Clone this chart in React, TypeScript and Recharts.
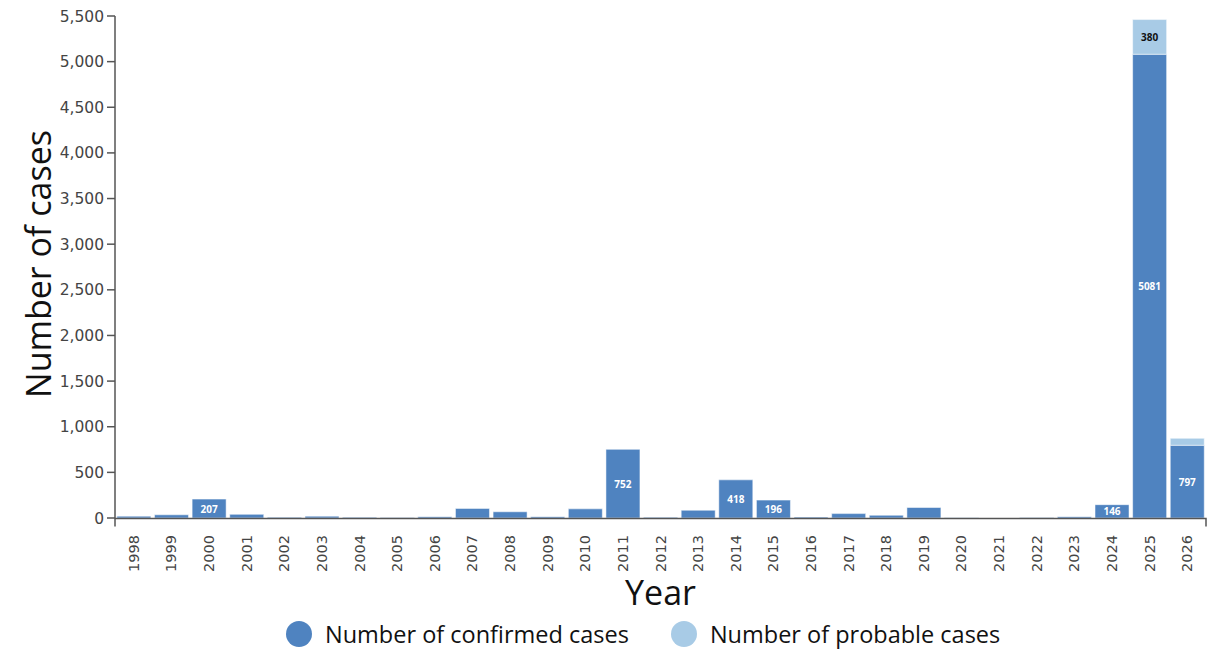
import { BarChart, Bar, XAxis, YAxis, Legend, LabelList } from "recharts";

const years = [
  "1998", "1999", "2000", "2001", "2002", "2003", "2004", "2005", "2006", "2007",
  "2008", "2009", "2010", "2011", "2012", "2013", "2014", "2015", "2016", "2017",
  "2018", "2019", "2020", "2021", "2022", "2023", "2024", "2025", "2026",
];
const confirmedCases = [
  20, 35, 207, 40, 8, 20, 8, 6, 15, 105,
  68, 15, 100, 752, 8, 85, 418, 196, 10, 48,
  30, 115, 2, 1, 5, 15, 146, 5081, 797,
];
const probableCases = [
  0, 0, 0, 0, 0, 0, 0, 0, 0, 0,
  0, 0, 0, 0, 0, 0, 0, 0, 0, 0,
  0, 0, 0, 0, 0, 0, 0, 380, 76,
];
const yTicks = [0, 500, 1000, 1500, 2000, 2500, 3000, 3500, 4000, 4500, 5000, 5500];

const CONFIRMED = "#4f83c0";
const PROBABLE = "#a8cbe6";
const AXIS = "#555";
const TITLE_FONT = "'Open Sans', 'Noto Sans', sans-serif";
const TICK_FONT = "'DejaVu Sans', Verdana, sans-serif";

const data = years.map((year, i) => ({
  year,
  confirmed: confirmedCases[i],
  probable: probableCases[i],
}));

const makeBarLabel = (fill: string) => (props: any) => {
  const { x, y, width, height, value } = props;
  if (value == null || value < 140) return null;
  return (
    <text
      x={x + width / 2}
      y={y + height / 2}
      textAnchor="middle"
      dominantBaseline="central"
      fill={fill}
      fontSize={10}
      fontWeight={700}
      fontFamily={TITLE_FONT}
    >
      {value}
    </text>
  );
};

const YearTick = (props: any) => {
  const { x, y, payload } = props;
  return (
    <text
      transform={`translate(${x},${y + 9}) rotate(-90)`}
      textAnchor="end"
      dominantBaseline="central"
      fill="#444"
      fontSize={14.5}
      fontFamily={TICK_FONT}
    >
      {payload.value}
    </text>
  );
};

const LegendContent = () => (
  <div
    style={{
      display: "flex",
      alignItems: "center",
      height: 46,
      paddingTop: 15,
      paddingLeft: 286,
      boxSizing: "border-box",
      fontFamily: TITLE_FONT,
      fontSize: 23.5,
      color: "#111",
    }}
  >
    {[
      { name: "Number of confirmed cases", color: CONFIRMED },
      { name: "Number of probable cases", color: PROBABLE },
    ].map((item, i) => (
      <div key={item.name} style={{ display: "flex", alignItems: "center", marginLeft: i ? 42 : 0 }}>
        <span
          style={{
            width: 26,
            height: 26,
            borderRadius: "50%",
            background: item.color,
            display: "inline-block",
            marginRight: 13,
          }}
        />
        <span style={{ lineHeight: "26px" }}>{item.name}</span>
      </div>
    ))}
  </div>
);

export default function App() {
  return (
    <div style={{ position: "absolute", left: 0, top: 0, background: "#fff" }}>
      <BarChart
        width={1217}
        height={649}
        data={data}
        margin={{ top: 16, right: 11, left: 0, bottom: 0 }}
        barCategoryGap="5%"
      >
        <XAxis
          dataKey="year"
          height={85}
          interval={0}
          tickLine={false}
          tick={<YearTick />}
          axisLine={false}
          label={(props: any) => {
            const vb = props.viewBox;
            const x0 = vb.x;
            const x1 = vb.x + vb.width;
            const y0 = vb.y + 0.5;
            return (
              <g>
                <path
                  d={`M${x0},${y0 + 8}V${y0}H${x1}V${y0 + 8}`}
                  fill="none"
                  stroke={AXIS}
                  strokeWidth={1.5}
                />
                <text
                  x={vb.x + vb.width / 2}
                  y={vb.y + 87}
                  textAnchor="middle"
                  fill="#111"
                  fontSize={34}
                  fontFamily={TITLE_FONT}
                >
                  Year
                </text>
              </g>
            );
          }}
        />
        <YAxis
          width={115}
          domain={[0, 5500]}
          ticks={yTicks}
          interval={0}
          tickSize={8}
          tickMargin={3}
          tickFormatter={(v: number) => v.toLocaleString("en-US")}
          tick={{ fill: "#444", fontSize: 15.5, fontFamily: TICK_FONT }}
          tickLine={{ stroke: AXIS, strokeWidth: 1.5 }}
          axisLine={{ stroke: AXIS, strokeWidth: 1.5 }}
          label={(props: any) => {
            const vb = props.viewBox;
            const cy = vb.y + vb.height / 2 - 3;
            return (
              <text
                x={38}
                y={cy}
                transform={`rotate(-90, 38, ${cy})`}
                textAnchor="middle"
                dominantBaseline="central"
                fill="#111"
                fontSize={34}
                fontFamily={TITLE_FONT}
              >
                Number of cases
              </text>
            );
          }}
        />
        <Legend verticalAlign="bottom" height={46} content={<LegendContent />} />
        <Bar
          dataKey="confirmed"
          name="Number of confirmed cases"
          stackId="cases"
          fill={CONFIRMED}
          stroke="rgba(255,255,255,0.5)"
          strokeWidth={1}
          isAnimationActive={false}
        >
          <LabelList dataKey="confirmed" content={makeBarLabel("#ffffff")} />
        </Bar>
        <Bar
          dataKey="probable"
          name="Number of probable cases"
          stackId="cases"
          fill={PROBABLE}
          stroke="rgba(255,255,255,0.5)"
          strokeWidth={1}
          isAnimationActive={false}
        >
          <LabelList dataKey="probable" content={makeBarLabel("#111111")} />
        </Bar>
      </BarChart>
    </div>
  );
}
